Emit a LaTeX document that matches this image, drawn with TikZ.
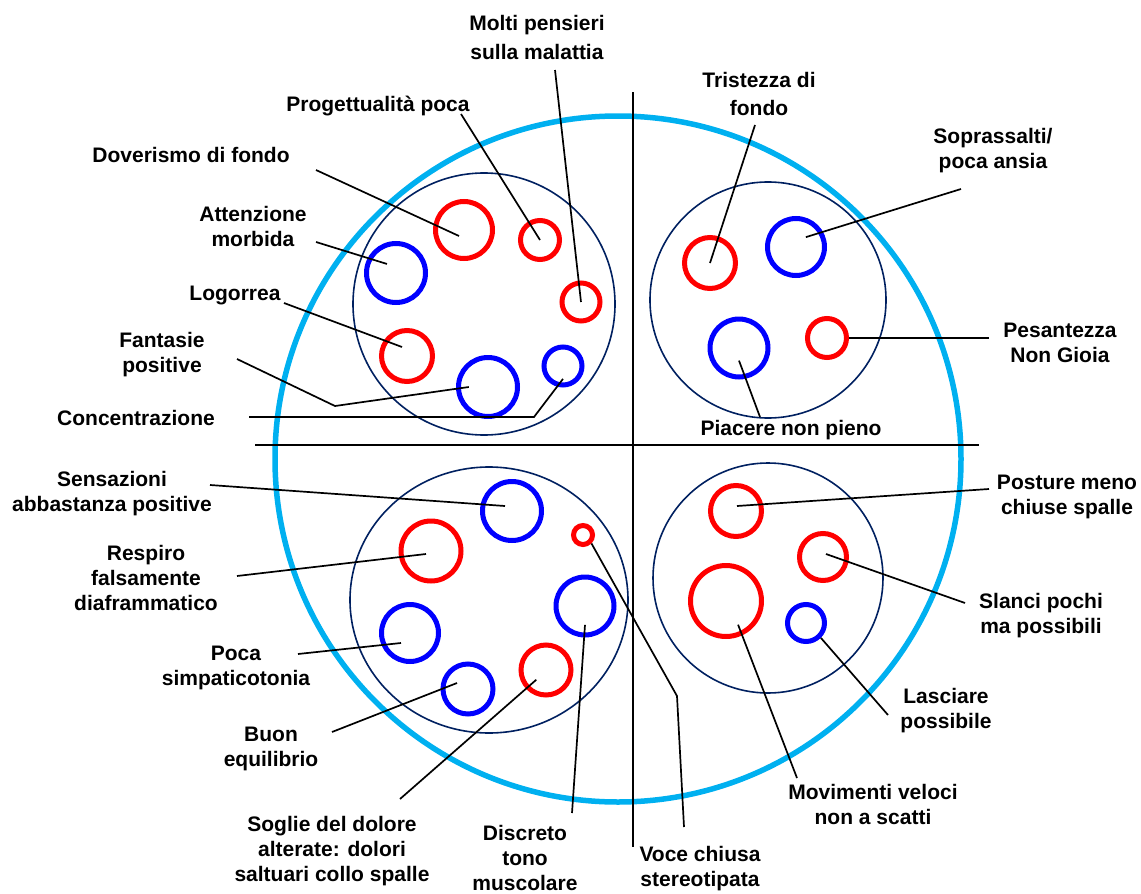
\documentclass[tikz,border=0pt]{standalone}
\usepackage{fontspec}
\setmainfont{Liberation Sans}
\usetikzlibrary{calc}
\definecolor{skyring}{HTML}{00B0F0}
\definecolor{navyring}{HTML}{002060}
\definecolor{redring}{HTML}{FF0000}
\definecolor{bluering}{HTML}{0000FF}

\begin{document}
\begin{tikzpicture}[x=1pt,y=-1pt,
  font=\bfseries\fontsize{21}{25}\selectfont,
  lbl/.style={align=center,inner sep=0pt},
  ring/.style={circle,draw,line width=5pt,inner sep=0pt,minimum size=#1},
  redring/.style={ring=#1,draw=redring},
  bluering/.style={ring=#1,draw=bluering},
  zone/.style={navyring,line width=1.6pt},
  lead/.style={black,line width=1.7pt}]
\useasboundingbox (0,0) rectangle (1141,894);
% outer ring, axes and the four zones
\draw[skyring,line width=5.5pt] (618,459) circle (343);
\draw[black,line width=1.5pt] (255,445) -- (979,445);
\draw[black,line width=1.5pt] (633,92) -- (633,847);
\draw[zone] (484,304) circle (131);
\draw[zone] (768,300) circle (118);
\draw[zone] (489,600) ellipse (139 and 133);
\draw[zone] (768,578) circle (115);
% top left
\node[redring=57pt] (dov) at (464,230) {};
\node[redring=39pt] (pro) at (540,240) {};
\node[redring=38pt] (mol) at (581,302) {};
\node[bluering=59pt] (att) at (396,273) {};
\node[redring=51pt] (log) at (407,356) {};
\node[bluering=59pt] (fan) at (488,387) {};
\node[bluering=38pt] (con) at (563,366) {};
% top right
\node[redring=51pt] (tri) at (710,263) {};
\node[bluering=57pt] (sop) at (796,247) {};
\node[bluering=58pt] (pia) at (739,348) {};
\node[redring=39pt] (pes) at (827,338) {};
% bottom left
\node[bluering=59pt] (sen) at (512,511) {};
\node[redring=60pt] (res) at (431,551) {};
\node[bluering=57pt] (poc) at (410,633) {};
\node[bluering=50pt] (buo) at (468,689) {};
\node[redring=50pt] (sog) at (546,670) {};
\node[bluering=58pt] (dis) at (585,606) {};
\node[redring=19pt] (voc) at (583,535) {};
% bottom right
\node[redring=51pt] (pos) at (736,511) {};
\node[redring=47pt] (sla) at (823,557) {};
\node[redring=71pt] (mov) at (726,601) {};
\node[bluering=37pt] (las) at (806,623) {};
% labels
\node[lbl] (moltxt) at (537,37) {Molti pensieri\\[4pt]sulla malattia};
\node[lbl] (protxt) at (378,106) {Progettualit\`a poca};
\node[lbl] (dovtxt) at (191,155) {Doverismo di fondo};
\node[lbl] (atttxt) at (253,226) {Attenzione\\morbida};
\node[lbl] (logtxt) at (235,295) {Logorrea};
\node[lbl] (fantxt) at (162,355) {Fantasie\\positive};
\node[lbl] (contxt) at (136,418) {Concentrazione};
\node[lbl] (tritxt) at (759,94) {Tristezza di\\[3pt]fondo};
\node[lbl] (soptxt) at (993,151) {Soprassalti/\\poca ansia};
\node[lbl] (pestxt) at (1060,343) {Pesantezza\\Non Gioia};
\node[lbl] (piatxt) at (791,430) {Piacere non pieno};
\node[lbl] (sentxt) at (112,494) {Sensazioni\\abbastanza positive};
\node[lbl] (restxt) at (146,578) {Respiro\\falsamente\\diaframmatico};
\node[lbl] (poctxt) at (236,668) {Poca\\simpaticotonia};
\node[lbl] (buotxt) at (271,749) {Buon\\equilibrio};
\node[lbl] (sogtxt) at (332,851) {Soglie del dolore\\alterate: dolori\\saltuari collo spalle};
\node[lbl] (distxt) at (525,858) {Discreto\\tono\\muscolare};
\node[lbl] (voctxt) at (700,869) {Voce chiusa\\stereotipata};
\node[lbl] (postxt) at (1067,497) {Posture meno\\chiuse spalle};
\node[lbl] (slatxt) at (1041,616) {Slanci pochi\\ma possibili};
\node[lbl] (lastxt) at (946,711) {Lasciare\\possibile};
\node[lbl] (movtxt) at (873,804) {Movimenti veloci\\non a scatti};
% leader ends
\coordinate (molA) at (555,70);
\coordinate (proA) at (461,114);
\coordinate (dovA) at (316,170);
\coordinate (attA) at (316,242);
\coordinate (logA) at (284,303);
\coordinate (fanA) at (237,359);
\coordinate (fanB) at (335,406);
\coordinate (conA) at (249,417);
\coordinate (conB) at (534,417);
\coordinate (triA) at (755,125);
\coordinate (sopA) at (961,189);
\coordinate (pesA) at (989,338);
\coordinate (piaA) at (760,417);
\coordinate (senA) at (210,485);
\coordinate (resA) at (237,576);
\coordinate (pocA) at (298,654);
\coordinate (buoA) at (332,732);
\coordinate (sogA) at (400,799);
\coordinate (disA) at (572,813);
\coordinate (vocA) at (684,827);
\coordinate (vocB) at (677,696);
\coordinate (posA) at (989,489);
\coordinate (slaA) at (965,603);
\coordinate (lasA) at (888,715);
\coordinate (movA) at (797,778);
% leaders
\draw[lead] (molA) -- (mol.center);
\draw[lead] (proA) -- (pro.center);
\draw[lead] (dovA) -- ($(dov.center)+(-5,6)$);
\draw[lead] (attA) -- ($(att.center)!0.4!(att.north west)$);
\draw[lead] (logA) -- ($(log.center)+(-5,-9)$);
\draw[lead] (fanA) -- (fanB) -- ($(fan.center)!0.6!(fan.west)$);
\draw[lead] (conA) -- (conB) -- ($(con.center)!0.6!(con.south)$);
\draw[lead] (triA) -- (tri.center);
\draw[lead] (sopA) -- ($(sop.center)!0.45!(sop.north east)$);
\draw[lead] (pesA) -- (pes.east);
\draw[lead] (piaA) -- ($(pia.center)!0.4!(pia.south)$);
\draw[lead] (senA) -- ($(sen.center)+(-7,-5)$);
\draw[lead] (resA) -- ($(res.center)+(-5,3)$);
\draw[lead] (pocA) -- ($(poc.center)+(-9,10)$);
\draw[lead] (buoA) -- ($(buo.center)+(-11,-6)$);
\draw[lead] (sogA) -- ($(sog.center)!0.5!(sog.south west)$);
\draw[lead] (disA) -- ($(dis.center)!0.6!(dis.south)$);
\draw[lead] (voc.south east) -- (vocB) -- (vocA);
\draw[lead] (posA) -- ($(pos.center)+(1,-5)$);
\draw[lead] (slaA) -- ($(sla.center)+(3,-3)$);
\draw[lead] (las.south east) -- (lasA);
\draw[lead] ($(mov.center)!0.7!(mov.-63)$) -- (movA);
\end{tikzpicture}
\end{document}
